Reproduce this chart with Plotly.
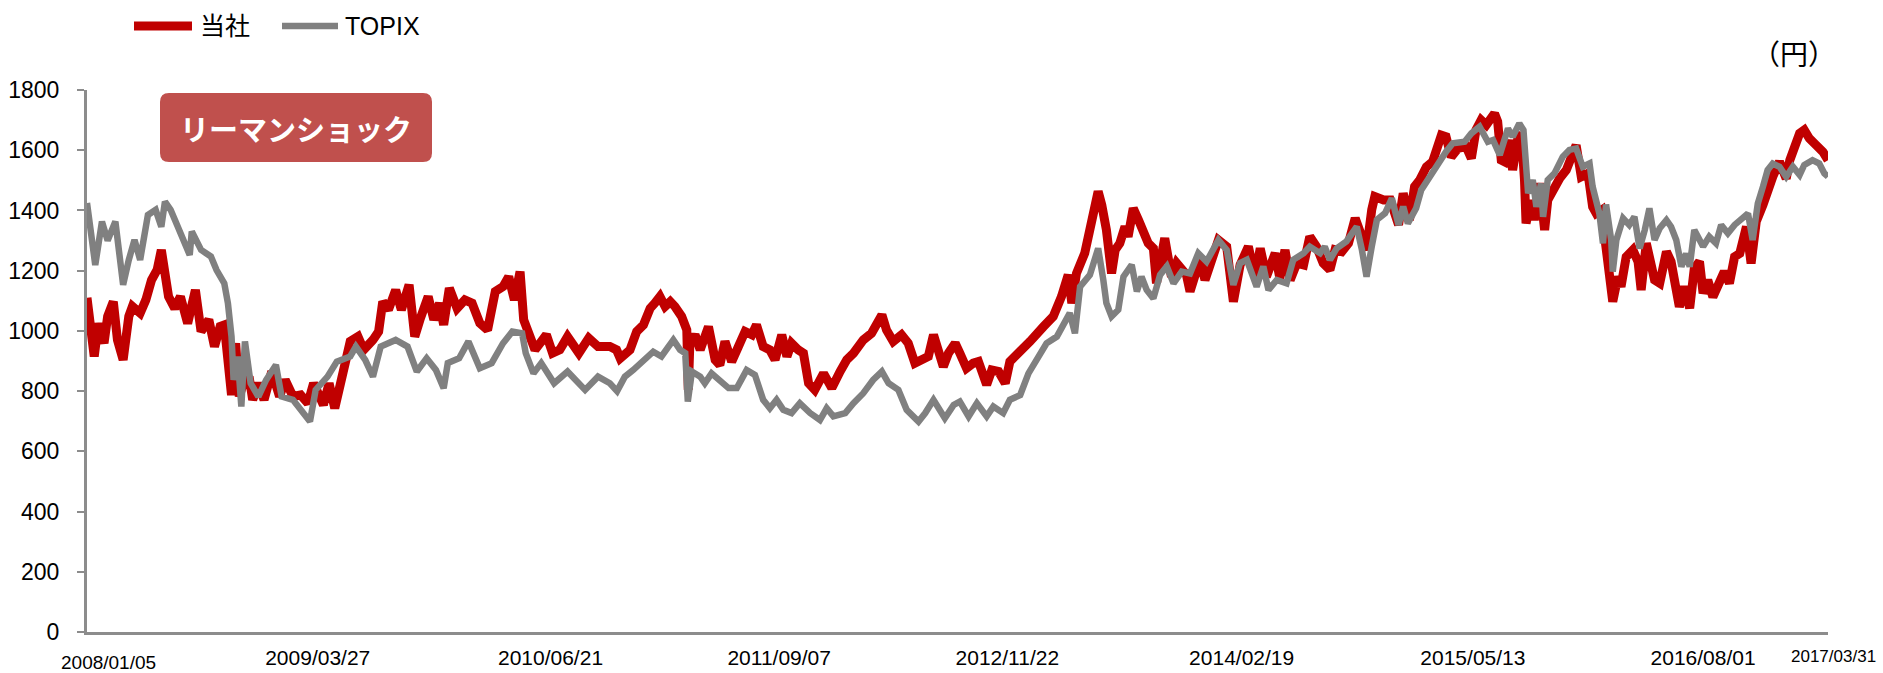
import plotly.graph_objects as go

# ---------------- data ----------------
company_dates = [
    "2008-01-05", "2008-01-19", "2008-01-27", "2008-02-07", "2008-02-14", "2008-02-25", "2008-03-04", "2008-03-15",
    "2008-03-26", "2008-04-02", "2008-04-17", "2008-04-28", "2008-05-09", "2008-05-20", "2008-05-28", "2008-06-04",
    "2008-06-11", "2008-06-23", "2008-07-04", "2008-07-18", "2008-08-02", "2008-08-13", "2008-08-28", "2008-09-08",
    "2008-09-19", "2008-09-27", "2008-10-04", "2008-10-11", "2008-10-19", "2008-10-26", "2008-11-03", "2008-11-14",
    "2008-11-21", "2008-12-02", "2008-12-13", "2008-12-28", "2009-01-12", "2009-01-23", "2009-02-07", "2009-02-22",
    "2009-03-08", "2009-03-19", "2009-04-07", "2009-04-18", "2009-04-29", "2009-05-14", "2009-05-29", "2009-06-13",
    "2009-06-24", "2009-07-12", "2009-07-23", "2009-07-31", "2009-08-11", "2009-08-25", "2009-09-05", "2009-09-20",
    "2009-10-01", "2009-10-12", "2009-10-27", "2009-11-07", "2009-11-18", "2009-11-26", "2009-12-07", "2009-12-22",
    "2010-01-06", "2010-01-20", "2010-02-04", "2010-02-19", "2010-03-06", "2010-03-21", "2010-04-01", "2010-04-12",
    "2010-04-23", "2010-04-30", "2010-05-11", "2010-05-22", "2010-06-13", "2010-06-25", "2010-07-09", "2010-07-24",
    "2010-08-15", "2010-09-03", "2010-09-21", "2010-10-14", "2010-10-27", "2010-11-03", "2010-11-22", "2010-12-05",
    "2010-12-18", "2010-12-31", "2011-01-09", "2011-01-19", "2011-01-29", "2011-02-08", "2011-02-17", "2011-03-02",
    "2011-03-12", "2011-03-15", "2011-03-18", "2011-03-28", "2011-04-07", "2011-04-23", "2011-05-06", "2011-05-15",
    "2011-05-25", "2011-06-07", "2011-06-20", "2011-07-03", "2011-07-16", "2011-07-25", "2011-08-07", "2011-08-20",
    "2011-08-30", "2011-09-12", "2011-09-22", "2011-10-01", "2011-10-14", "2011-10-24", "2011-11-03", "2011-11-15",
    "2011-12-02", "2011-12-18", "2012-01-03", "2012-01-16", "2012-01-29", "2012-02-17", "2012-03-04", "2012-03-17",
    "2012-03-24", "2012-04-02", "2012-04-15", "2012-05-01", "2012-05-14", "2012-05-27", "2012-06-09", "2012-06-22",
    "2012-07-02", "2012-07-11", "2012-07-21", "2012-07-31", "2012-08-13", "2012-08-22", "2012-09-04", "2012-09-17",
    "2012-09-27", "2012-10-13", "2012-10-23", "2012-11-05", "2012-11-18", "2012-11-27", "2012-12-23", "2013-01-05",
    "2013-01-31", "2013-02-19", "2013-03-07", "2013-03-20", "2013-03-27", "2013-04-05", "2013-04-21", "2013-05-04",
    "2013-05-17", "2013-05-24", "2013-06-02", "2013-06-12", "2013-06-19", "2013-06-28", "2013-07-08", "2013-07-14",
    "2013-07-24", "2013-08-03", "2013-08-12", "2013-08-22", "2013-09-01", "2013-09-07", "2013-09-23", "2013-10-06",
    "2013-10-16", "2013-11-04", "2013-11-11", "2013-11-30", "2013-12-10", "2013-12-26", "2014-01-05", "2014-01-21",
    "2014-02-03", "2014-02-16", "2014-03-04", "2014-03-17", "2014-03-27", "2014-04-08", "2014-04-25", "2014-05-04",
    "2014-05-14", "2014-05-24", "2014-06-06", "2014-06-19", "2014-07-01", "2014-07-14", "2014-07-27", "2014-08-09",
    "2014-08-19", "2014-09-01", "2014-09-14", "2014-09-27", "2014-10-06", "2014-10-19", "2014-10-29", "2014-11-04",
    "2014-11-21", "2014-12-04", "2014-12-20", "2014-12-29", "2015-01-10", "2015-01-20", "2015-01-30", "2015-02-12",
    "2015-02-24", "2015-03-13", "2015-03-22", "2015-04-01", "2015-04-14", "2015-04-30", "2015-05-10", "2015-05-19",
    "2015-05-29", "2015-06-08", "2015-06-24", "2015-06-30", "2015-07-07", "2015-07-13", "2015-07-23", "2015-07-29",
    "2015-08-08", "2015-08-15", "2015-08-21", "2015-08-24", "2015-09-03", "2015-09-09", "2015-09-19", "2015-09-29",
    "2015-10-05", "2015-10-18", "2015-10-28", "2015-11-10", "2015-11-23", "2015-11-29", "2015-12-09", "2015-12-22",
    "2015-12-31", "2016-01-07", "2016-01-17", "2016-01-23", "2016-02-02", "2016-02-08", "2016-02-18", "2016-02-24",
    "2016-03-05", "2016-03-18", "2016-03-28", "2016-04-03", "2016-04-13", "2016-04-22", "2016-04-29", "2016-05-09",
    "2016-05-22", "2016-05-31", "2016-06-10", "2016-06-16", "2016-06-26", "2016-07-06", "2016-07-15", "2016-07-25",
    "2016-08-01", "2016-08-10", "2016-08-20", "2016-09-02", "2016-09-11", "2016-09-21", "2016-10-01", "2016-10-11",
    "2016-10-24", "2016-11-02", "2016-11-12", "2016-11-25", "2016-12-04", "2016-12-14", "2016-12-27", "2017-01-09",
    "2017-01-16", "2017-01-25", "2017-02-04", "2017-02-13", "2017-02-23", "2017-03-08", "2017-03-21", "2017-03-31",
]
company_values = [
    1110, 915, 1025, 959, 1048, 1097, 970, 904,
    1048, 1081, 1059, 1103, 1169, 1203, 1269, 1180,
    1114, 1075, 1114, 1025, 1136, 998, 1037, 948,
    1015, 1020, 915, 787, 959, 782, 826, 848,
    771, 826, 771, 865, 782, 837, 782, 787,
    760, 826, 754, 826, 743, 870, 965, 981,
    937, 970, 998, 1097, 1070, 1136, 1070, 1153,
    981, 1042, 1114, 1037, 1092, 1020, 1142, 1075,
    1103, 1092, 1026, 1003, 1131, 1147, 1180, 1103,
    1197, 1037, 981, 937, 987, 926, 937, 981,
    926, 976, 948, 948, 937, 909, 937, 998,
    1020, 1075, 1092, 1114, 1081, 1097, 1081, 1048,
    1003, 804, 960, 987, 937, 1014, 904, 887,
    965, 898, 948, 998, 987, 1020, 948, 937,
    904, 987, 915, 959, 937, 926, 826, 804,
    859, 810, 865, 904, 926, 970, 992, 1042,
    1053, 1003, 965, 987, 959, 893, 904, 915,
    987, 937, 881, 926, 959, 926, 876, 893,
    898, 821, 870, 865, 826, 898, 937, 965,
    1014, 1048, 1114, 1186, 1092, 1191, 1258, 1374,
    1463, 1418, 1335, 1191, 1269, 1291, 1346, 1313,
    1407, 1369, 1335, 1291, 1274, 1158, 1308, 1180,
    1225, 1186, 1131, 1236, 1169, 1258, 1302, 1280,
    1097, 1219, 1280, 1180, 1274, 1180, 1258, 1175,
    1269, 1169, 1225, 1219, 1313, 1280, 1225, 1203,
    1269, 1263, 1291, 1374, 1335, 1269, 1402, 1446,
    1435, 1435, 1352, 1457, 1368, 1479, 1501, 1545,
    1562, 1650, 1645, 1578, 1606, 1612, 1573, 1667,
    1700, 1684, 1722, 1695, 1567, 1562, 1634, 1534,
    1639, 1656, 1501, 1357, 1434, 1368, 1490, 1335,
    1434, 1479, 1506, 1534, 1606, 1617, 1512, 1523,
    1412, 1390, 1401, 1313, 1191, 1097, 1180, 1147,
    1246, 1269, 1230, 1136, 1291, 1213, 1169, 1158,
    1263, 1230, 1147, 1080, 1147, 1075, 1208, 1230,
    1125, 1169, 1113, 1158, 1197, 1158, 1246, 1257,
    1346, 1224, 1363, 1418, 1468, 1512, 1562, 1506,
    1567, 1612, 1656, 1667, 1639, 1617, 1595, 1567,
]

topix_dates = [
    "2008-01-05", "2008-01-21", "2008-02-03", "2008-02-14", "2008-02-29", "2008-03-15", "2008-03-26", "2008-04-06",
    "2008-04-17", "2008-05-02", "2008-05-17", "2008-05-28", "2008-06-04", "2008-06-15", "2008-06-23", "2008-07-07",
    "2008-07-22", "2008-07-26", "2008-08-13", "2008-09-01", "2008-09-12", "2008-09-27", "2008-10-04", "2008-10-11",
    "2008-10-15", "2008-10-23", "2008-10-30", "2008-11-06", "2008-11-17", "2008-12-02", "2008-12-17", "2009-01-05",
    "2009-01-16", "2009-02-07", "2009-02-22", "2009-03-12", "2009-03-23", "2009-04-15", "2009-05-03", "2009-05-29",
    "2009-06-09", "2009-06-27", "2009-07-12", "2009-07-27", "2009-08-25", "2009-09-17", "2009-10-05", "2009-10-24",
    "2009-11-11", "2009-11-26", "2009-12-04", "2009-12-26", "2010-01-13", "2010-02-04", "2010-02-27", "2010-03-21",
    "2010-04-08", "2010-04-27", "2010-05-04", "2010-05-19", "2010-06-03", "2010-06-28", "2010-07-24", "2010-08-27",
    "2010-09-21", "2010-10-14", "2010-10-28", "2010-11-12", "2010-11-28", "2010-12-15", "2011-01-06", "2011-01-22",
    "2011-02-01", "2011-02-14", "2011-02-27", "2011-03-09", "2011-03-14", "2011-03-22", "2011-04-07", "2011-04-16",
    "2011-04-29", "2011-05-15", "2011-06-01", "2011-06-17", "2011-07-06", "2011-07-22", "2011-08-07", "2011-08-20",
    "2011-09-02", "2011-09-15", "2011-10-01", "2011-10-17", "2011-11-06", "2011-11-25", "2011-12-08", "2011-12-21",
    "2012-01-13", "2012-01-29", "2012-02-17", "2012-03-07", "2012-03-24", "2012-04-06", "2012-04-25", "2012-05-11",
    "2012-06-03", "2012-06-16", "2012-07-02", "2012-07-24", "2012-08-10", "2012-08-22", "2012-09-08", "2012-09-24",
    "2012-10-13", "2012-10-26", "2012-11-14", "2012-11-27", "2012-12-17", "2013-01-02", "2013-01-18", "2013-02-06",
    "2013-02-26", "2013-03-14", "2013-03-23", "2013-04-02", "2013-04-12", "2013-05-01", "2013-05-17", "2013-05-27",
    "2013-06-02", "2013-06-12", "2013-06-25", "2013-07-05", "2013-07-21", "2013-07-31", "2013-08-09", "2013-08-19",
    "2013-09-01", "2013-09-14", "2013-09-27", "2013-10-10", "2013-10-26", "2013-11-11", "2013-11-27", "2013-12-13",
    "2014-01-05", "2014-01-21", "2014-02-03", "2014-02-16", "2014-03-01", "2014-03-20", "2014-04-02", "2014-04-12",
    "2014-04-28", "2014-05-17", "2014-05-30", "2014-06-19", "2014-07-01", "2014-07-21", "2014-07-30", "2014-08-09",
    "2014-08-22", "2014-09-10", "2014-09-30", "2014-10-10", "2014-10-19", "2014-10-29", "2014-11-08", "2014-11-24",
    "2014-12-07", "2014-12-20", "2014-12-29", "2015-01-07", "2015-01-23", "2015-02-02", "2015-02-18", "2015-03-06",
    "2015-03-22", "2015-04-04", "2015-04-27", "2015-05-10", "2015-05-26", "2015-06-11", "2015-06-21", "2015-07-04",
    "2015-07-20", "2015-07-29", "2015-08-11", "2015-08-19", "2015-08-28", "2015-09-06", "2015-09-13", "2015-09-22",
    "2015-09-26", "2015-10-05", "2015-10-18", "2015-11-03", "2015-11-16", "2015-11-29", "2015-12-12", "2015-12-25",
    "2015-12-31", "2016-01-13", "2016-01-20", "2016-01-26", "2016-02-05", "2016-02-08", "2016-02-15", "2016-02-28",
    "2016-03-11", "2016-03-21", "2016-03-31", "2016-04-10", "2016-04-19", "2016-04-29", "2016-05-09", "2016-05-22",
    "2016-05-31", "2016-06-10", "2016-06-20", "2016-06-29", "2016-07-06", "2016-07-15", "2016-08-01", "2016-08-13",
    "2016-08-26", "2016-09-05", "2016-09-18", "2016-10-01", "2016-10-14", "2016-10-27", "2016-11-05", "2016-11-15",
    "2016-11-25", "2016-12-04", "2016-12-14", "2016-12-27", "2017-01-09", "2017-01-22", "2017-02-04", "2017-02-13",
    "2017-03-01", "2017-03-14", "2017-03-24", "2017-03-31",
]
topix_values = [
    1425, 1219, 1363, 1300, 1363, 1153, 1236, 1302,
    1236, 1385, 1402, 1346, 1429, 1402, 1370, 1313,
    1252, 1330, 1269, 1247, 1202, 1158, 1092, 981,
    837, 915, 749, 965, 826, 782, 837, 887,
    782, 771, 738, 699, 804, 848, 898, 915,
    948, 904, 848, 948, 970, 948, 865, 909,
    870, 810, 893, 909, 965, 876, 893, 959,
    998, 992, 926, 859, 893, 826, 865, 804,
    848, 826, 800, 848, 870, 898, 931, 915,
    937, 970, 937, 926, 765, 865, 848, 826,
    859, 832, 810, 810, 870, 854, 771, 743,
    771, 738, 727, 760, 727, 704, 743, 716,
    727, 760, 793, 837, 865, 826, 804, 738,
    699, 727, 771, 710, 754, 765, 716, 760,
    716, 749, 727, 771, 787, 859, 909, 959,
    981, 1037, 1059, 992, 1147, 1186, 1274, 1169,
    1092, 1048, 1070, 1180, 1219, 1131, 1180, 1136,
    1108, 1186, 1214, 1158, 1197, 1191, 1258, 1230,
    1302, 1269, 1153, 1225, 1236, 1147, 1214, 1136,
    1169, 1158, 1236, 1258, 1280, 1258, 1280, 1236,
    1274, 1297, 1346, 1269, 1180, 1280, 1369, 1391,
    1440, 1352, 1413, 1357, 1407, 1468, 1512, 1556,
    1595, 1623, 1628, 1656, 1678, 1628, 1634, 1584,
    1672, 1645, 1689, 1667, 1457, 1501, 1412, 1490,
    1379, 1501, 1523, 1578, 1601, 1606, 1545, 1556,
    1479, 1390, 1291, 1420, 1302, 1197, 1302, 1374,
    1352, 1379, 1274, 1335, 1407, 1302, 1341, 1368,
    1346, 1302, 1213, 1257, 1213, 1335, 1280, 1313,
    1291, 1352, 1324, 1352, 1368, 1390, 1302, 1423,
    1479, 1534, 1556, 1545, 1512, 1545, 1518, 1551,
    1567, 1556, 1523, 1512,
]

tick_dates = ["2009-03-27", "2010-06-21", "2011-09-07", "2012-11-22", "2014-02-19", "2015-05-13", "2016-08-01"]
tick_labels = ["2009/03/27", "2010/06/21", "2011/09/07", "2012/11/22", "2014/02/19", "2015/05/13", "2016/08/01"]
start_date, start_label = "2008-01-05", "2008/01/05"
end_date, end_label = "2017-03-31", "2017/03/31"
series_names = ["当社", "TOPIX"]
series_colors = ["#C00000", "#808080"]
y_ticks = list(range(0, 1801, 200))

# ---------------- figure ----------------
W, H = 1883, 673
ML, MR, MT, MB = 87, 55, 90, 41
PW, PH = W - ML - MR, H - MT - MB

AXIS = "#8C8C8C"
NUM_FONT = "Liberation Sans, Arial, sans-serif"
JP_FONT = "Noto Sans CJK JP, Noto Sans, sans-serif"
MIX_FONT = "Liberation Sans, Noto Sans CJK JP, sans-serif"


def px_x(p):
    return (p - ML) / PW


def px_y(p):
    return (H - MB - p) / PH


fig = go.Figure()
fig.add_trace(go.Scatter(x=company_dates, y=company_values, name=series_names[0], mode="lines",
                         line=dict(color=series_colors[0], width=9), showlegend=False))
fig.add_trace(go.Scatter(x=topix_dates, y=topix_values, name=series_names[1], mode="lines",
                         line=dict(color=series_colors[1], width=6.5), showlegend=False))

# rounded box "リーマンショック"
bx0, bx1, by0, by1 = px_x(160), px_x(432), px_y(162), px_y(93)
rx, ry = 9 / PW, 9 / PH
box_path = (f"M {bx0+rx},{by0} L {bx1-rx},{by0} Q {bx1},{by0} {bx1},{by0+ry} "
            f"L {bx1},{by1-ry} Q {bx1},{by1} {bx1-rx},{by1} L {bx0+rx},{by1} "
            f"Q {bx0},{by1} {bx0},{by1-ry} L {bx0},{by0+ry} Q {bx0},{by0} {bx0+rx},{by0} Z")

shapes = [dict(type="path", xref="paper", yref="paper", path=box_path,
               fillcolor="#C0504D", line=dict(width=0), layer="above")]

# legend drawn as line samples + text
legend_items = [(134, 192, 198, 9), (282, 338, 343, 6.5)]
annotations = []
for (lx0, lx1, tx, lw), name, color in zip(legend_items, series_names, series_colors):
    shapes.append(dict(type="line", xref="paper", yref="paper", x0=px_x(lx0), x1=px_x(lx1),
                       y0=px_y(26), y1=px_y(26), line=dict(color=color, width=lw)))
    annotations.append(dict(text=name, xref="paper", yref="paper", x=px_x(tx), y=px_y(26),
                            xanchor="left", yanchor="middle", showarrow=False,
                            font=dict(family=MIX_FONT, size=25, color="black")))

annotations += [
    dict(text="リーマンショック", xref="paper", yref="paper",
         x=(bx0 + bx1) / 2, y=(by0 + by1) / 2, xanchor="center", yanchor="middle",
         showarrow=False, font=dict(family=JP_FONT, size=29, color="white", weight="bold")),
    dict(text="（円）", xref="paper", yref="paper", x=px_x(1794), y=px_y(53),
         xanchor="center", yanchor="middle", showarrow=False,
         font=dict(family="Noto Sans CJK TC, Noto Sans CJK JP, sans-serif", size=28, color="black")),
    dict(text=start_label, xref="x", yref="paper", x=start_date, y=0,
         xanchor="center", yanchor="middle", xshift=21, yshift=-30, showarrow=False,
         font=dict(family=NUM_FONT, size=19, color="black")),
    dict(text=end_label, xref="x", yref="paper", x=end_date, y=0,
         xanchor="center", yanchor="middle", xshift=5, yshift=-24, showarrow=False,
         font=dict(family=NUM_FONT, size=17, color="black")),
]

fig.update_layout(
    width=W, height=H,
    margin=dict(l=ML, r=MR, t=MT, b=MB, pad=0, autoexpand=False),
    paper_bgcolor="white", plot_bgcolor="white",
    showlegend=False,
    xaxis=dict(type="date", range=[start_date, end_date], showgrid=False, zeroline=False,
               showline=True, linecolor=AXIS, linewidth=3, automargin=False,
               tickmode="array", tickvals=tick_dates, ticktext=tick_labels,
               ticks="", ticklabelstandoff=5,
               tickfont=dict(family=NUM_FONT, size=21, color="black")),
    yaxis=dict(range=[0, 1800], tickmode="array", tickvals=y_ticks, showgrid=False, zeroline=False,
               showline=True, linecolor=AXIS, linewidth=3, automargin=False,
               ticks="outside", ticklen=7, tickwidth=2, tickcolor=AXIS, ticklabelstandoff=13,
               tickfont=dict(family=NUM_FONT, size=23, color="black")),
    shapes=shapes,
    annotations=annotations,
)

fig.write_html("out.html", config={"displayModeBar": False},
               post_script="document.body.style.margin='0';document.body.style.overflow='hidden';")
